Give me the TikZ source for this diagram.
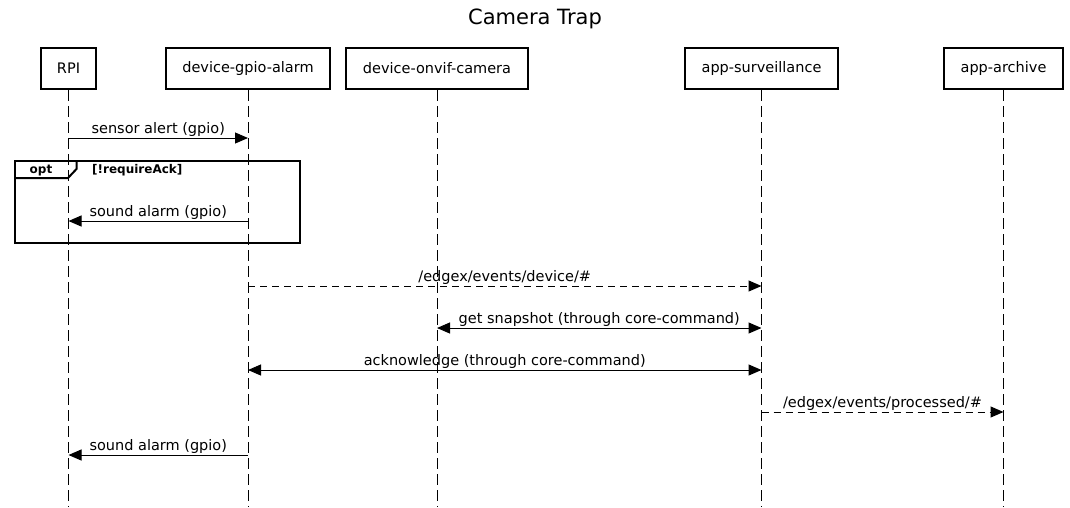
\documentclass[tikz,border=0pt]{standalone}
\usepackage{fontspec}
\setmainfont{DejaVu Sans}
\usetikzlibrary{arrows.meta}
\begin{document}
\begin{tikzpicture}[x=1pt,y=-1pt,
  part/.style={draw, line width=2pt, minimum height=41pt, inner sep=0pt, anchor=north west, font=\fontsize{14.5}{16}\selectfont},
  lifeline/.style={line width=1pt, dash pattern=on 11pt off 5pt},
  msg/.style={line width=1pt, -{Triangle[length=13pt,width=11pt]}},
  msgtwo/.style={line width=1pt, {Triangle[length=13pt,width=11pt]}-{Triangle[length=13pt,width=11pt]}},
  async/.style={msg, dash pattern=on 7pt off 5pt},
  lbl/.style={anchor=base, yshift=5pt, inner sep=0pt, font=\fontsize{14.5}{16}\selectfont},
  frame/.style={line width=2pt},
  framelbl/.style={inner sep=0pt, font=\fontsize{12}{14}\selectfont\bfseries}
]
\useasboundingbox (0,0) rectangle (1070,507);
\node[anchor=base, inner sep=0pt, font=\fontsize{21}{24}\selectfont] (title) at (535,24) {Camera Trap};

\node[part, minimum width=55pt] (rpi) at (40,47) {RPI};
\node[part, minimum width=164pt] (gpio) at (165,47) {device-gpio-alarm};
\node[part, minimum width=182pt] (cam) at (345,47) {device-onvif-camera};
\node[part, minimum width=153pt] (surv) at (684,47) {app-surveillance};
\node[part, minimum width=119pt] (arch) at (943,47) {app-archive};

\coordinate (bot) at (0,507);
\foreach \p in {rpi,gpio,cam,surv,arch}
  \draw[lifeline] (\p.south) -- (\p.south |- bot);

\coordinate (y1) at (0,138);
\coordinate (y2) at (0,221);
\coordinate (y3) at (0,286);
\coordinate (y4) at (0,328);
\coordinate (y5) at (0,370);
\coordinate (y6) at (0,412);
\coordinate (y7) at (0,455);

\draw[msg] (rpi |- y1) -- node[lbl] {sensor alert (gpio)} (gpio |- y1);

% opt frame
\draw[frame] (15,161) rectangle (300,243);
\draw[frame] (15,178) -- (68,178) -- (76.5,169) -- (76.5,161);
\node[framelbl, anchor=base] (optlbl) at (41,173) {opt};
\node[framelbl, anchor=base west] (cond) at (92,173) {[!requireAck]};

\draw[msg] (gpio |- y2) -- node[lbl] {sound alarm (gpio)} (rpi |- y2);
\draw[async] (gpio |- y3) -- node[lbl] {/edgex/events/device/\#} (surv |- y3);
\draw[msgtwo] (cam |- y4) -- node[lbl] {get snapshot (through core-command)} (surv |- y4);
\draw[msgtwo] (gpio |- y5) -- node[lbl] {acknowledge (through core-command)} (surv |- y5);
\draw[async] (surv |- y6) -- node[lbl] {/edgex/events/processed/\#} (arch |- y6);
\draw[msg] (gpio |- y7) -- node[lbl] {sound alarm (gpio)} (rpi |- y7);
\end{tikzpicture}
\end{document}
